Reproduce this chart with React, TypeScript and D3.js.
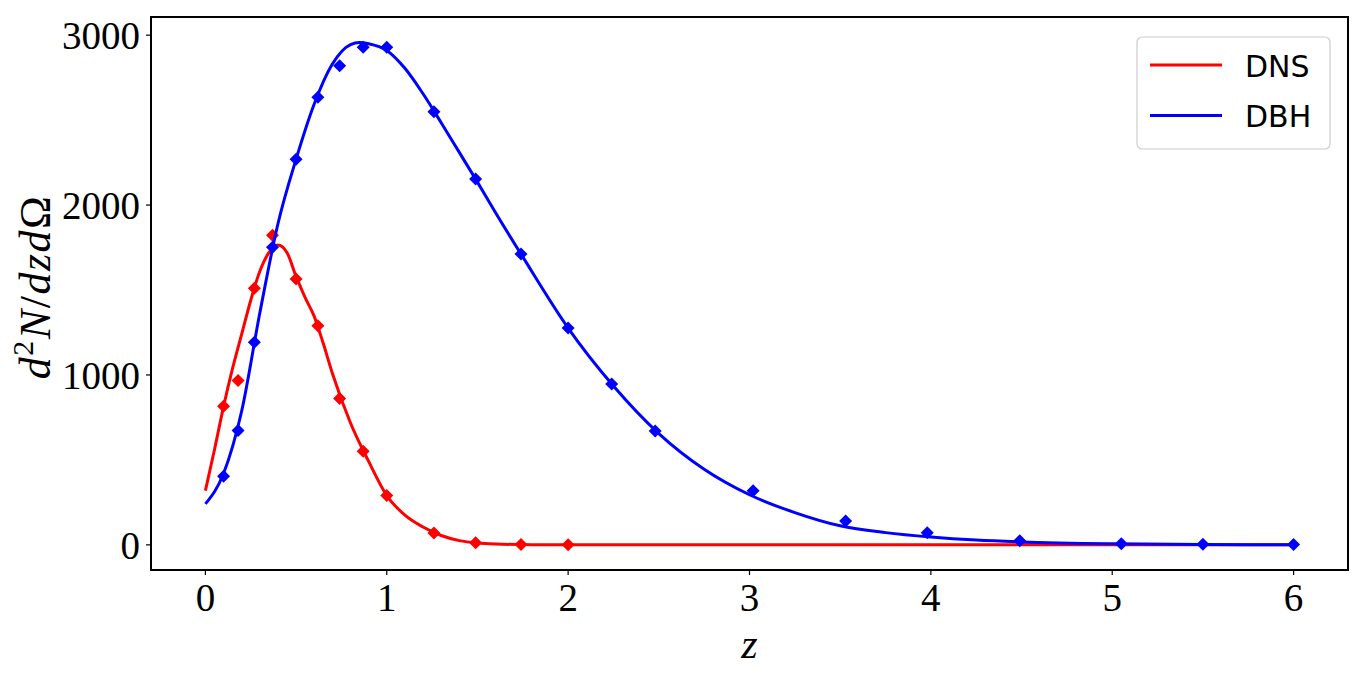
import React from "react";
import * as d3 from "d3";

// ---- data ----
const dnsCurveZ = [0, 0.05, 0.1, 0.15, 0.2, 0.25, 0.3, 0.35, 0.4, 0.45, 0.5, 0.55, 0.6, 0.65, 0.7, 0.8, 0.9, 1.0, 1.1, 1.2, 1.3, 1.4, 1.5, 1.6, 1.8, 2.0, 3.0, 4.0, 5.0, 6.0];
const dnsCurveV = [319, 560, 814, 1040, 1240, 1440, 1610, 1720, 1765, 1720, 1580, 1455, 1345, 1185, 1010, 717, 491, 290, 175, 105, 55, 25, 11, 5, 1, 0, 0, 0, 0, 0];

const dbhCurveZ = [0, 0.1, 0.2, 0.3, 0.4, 0.5, 0.6, 0.7, 0.8, 0.85, 0.9, 1.0, 1.1, 1.2, 1.3, 1.4, 1.5, 1.6, 1.75, 2.0, 2.25, 2.5, 2.75, 3.0, 3.25, 3.5, 3.75, 4.0, 4.25, 4.5, 5.0, 5.5, 6.0];
const dbhCurveV = [241, 420, 788, 1365, 1890, 2270, 2595, 2830, 2945, 2957, 2950, 2910, 2805, 2655, 2485, 2310, 2135, 1955, 1695, 1276, 935, 655, 445, 295, 190, 112, 72, 46, 28, 17, 6, 2, 1];

const dnsPointsZ = [0.1, 0.18, 0.27, 0.37, 0.5, 0.62, 0.74, 0.87, 1.0, 1.26, 1.49, 1.74, 2.0];
const dnsPointsV = [816, 967, 1510, 1822, 1565, 1290, 862, 551, 290, 70, 12, 2, 1];

const dbhPointsZ = [0.1, 0.18, 0.27, 0.37, 0.5, 0.62, 0.74, 0.87, 1.0, 1.26, 1.49, 1.74, 2.0, 2.24, 2.48, 3.02, 3.53, 3.98, 4.49, 5.05, 5.5, 6.0];
const dbhPointsV = [404, 673, 1192, 1751, 2270, 2635, 2820, 2929, 2929, 2549, 2153, 1712, 1276, 947, 670, 318, 141, 71, 24, 6, 3, 2];

const xTicks = [0, 1, 2, 3, 4, 5, 6];
const yTicks = [0, 1000, 2000, 3000];
const seriesNames = ["DNS", "DBH"];
const seriesColors = ["#ff0000", "#0000ff"];

const W = 1366;
const H = 685;
const L = 151, R = 1348, T = 17, B = 570;

export default function App() {
  const x = d3.scaleLinear().domain([-0.3, 6.3]).range([L, R]);
  const y = d3.scaleLinear().domain([-148, 3107]).range([B, T]);

  const line = d3
    .line<[number, number]>()
    .x((d) => x(d[0]))
    .y((d) => y(d[1]))
    .curve(d3.curveMonotoneX);

  const curves = [
    dnsCurveZ.map((z, i) => [z, dnsCurveV[i]] as [number, number]),
    dbhCurveZ.map((z, i) => [z, dbhCurveV[i]] as [number, number]),
  ];
  const points = [
    dnsPointsZ.map((z, i) => [z, dnsPointsV[i]] as [number, number]),
    dbhPointsZ.map((z, i) => [z, dbhPointsV[i]] as [number, number]),
  ];

  const diamond = (cx: number, cy: number, r: number) =>
    `M${cx},${cy - r}L${cx + r},${cy}L${cx},${cy + r}L${cx - r},${cy}Z`;

  const serif = "'Liberation Serif', 'DejaVu Serif', serif";
  const sans = "'DejaVu Sans', sans-serif";

  return (
    <svg width={W} height={H} style={{ position: "absolute", left: 0, top: 0, background: "#fff" }}>
      <rect x={0} y={0} width={W} height={H} fill="#fff" />
      <defs>
        <clipPath id="plotclip">
          <rect x={L} y={T} width={R - L} height={B - T} />
        </clipPath>
      </defs>

      <g clipPath="url(#plotclip)">
        {curves.map((c, si) => (
          <g key={si}>
            <path d={line(c) || ""} fill="none" stroke={seriesColors[si]} strokeWidth={3} strokeLinejoin="round" />
            {points[si].map((p, i) => (
              <path key={i} d={diamond(x(p[0]), y(p[1]), 6.5)} fill={seriesColors[si]} />
            ))}
          </g>
        ))}
      </g>

      {/* frame */}
      <rect x={L} y={T} width={R - L} height={B - T} fill="none" stroke="#000" strokeWidth={2} />

      {/* x ticks */}
      {xTicks.map((t) => (
        <g key={t}>
          <line x1={x(t)} x2={x(t)} y1={B} y2={B + 5} stroke="#000" strokeWidth={1.2} />
          <text x={x(t)} y={611} textAnchor="middle" fontFamily={serif} fontSize={39} fill="#000">
            {t}
          </text>
        </g>
      ))}

      {/* y ticks */}
      {yTicks.map((t) => (
        <g key={t}>
          <line x1={L - 5} x2={L} y1={y(t)} y2={y(t)} stroke="#000" strokeWidth={1.2} />
          <text x={140} y={y(t) + 14} textAnchor="end" fontFamily={serif} fontSize={39} fill="#000">
            {t}
          </text>
        </g>
      ))}

      {/* x label */}
      <text x={749.5} y={658} textAnchor="middle" fontFamily={serif} fontSize={42} fontStyle="italic" fill="#000">
        z
      </text>

      {/* y label */}
      <text
        transform="translate(50,287) rotate(-90)"
        textAnchor="middle"
        fontFamily={serif}
        fontSize={44}
        fill="#000"
        letterSpacing={1.5}
      >
        <tspan fontStyle="italic">d</tspan>
        <tspan fontSize={30} dy={-17}>2</tspan>
        <tspan fontStyle="italic" dy={17}>N</tspan>
        <tspan>/</tspan>
        <tspan fontStyle="italic">dzd</tspan>
        <tspan>Ω</tspan>
      </text>

      {/* legend */}
      <rect x={1137} y={37} width={193} height={112} rx={5} ry={5} fill="#fff" fillOpacity={0.8} stroke="#cccccc" strokeWidth={1.2} />
      {seriesNames.map((n, i) => (
        <g key={n}>
          <line x1={1150} x2={1222} y1={65 + i * 50.5} y2={65 + i * 50.5} stroke={seriesColors[i]} strokeWidth={3} />
          <text x={1245} y={77 + i * 50} fontFamily={sans} fontSize={30} fill="#000">
            {n}
          </text>
        </g>
      ))}
    </svg>
  );
}
